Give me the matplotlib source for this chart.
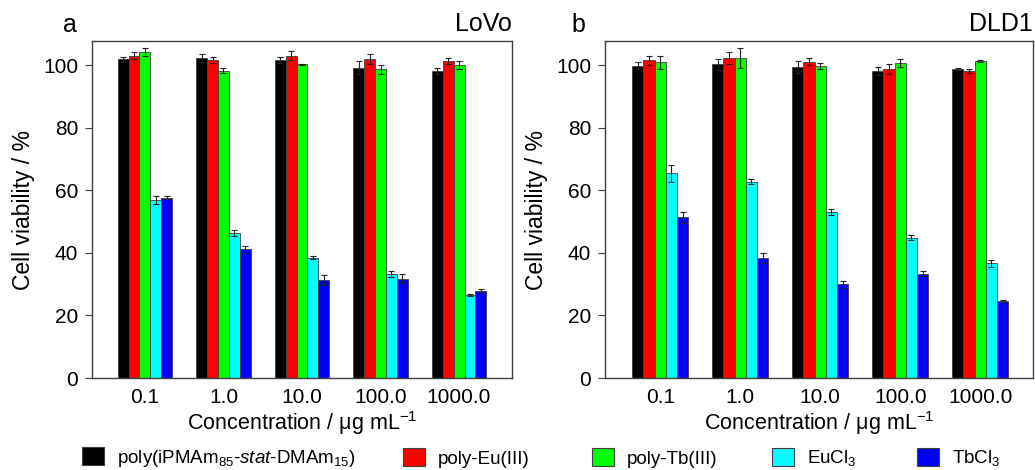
import numpy as np
import matplotlib.pyplot as plt
from matplotlib.patches import Patch

plt.rcParams['font.family'] = ['Liberation Sans', 'DejaVu Sans']
plt.rcParams['mathtext.fontset'] = 'custom'
plt.rcParams['mathtext.rm'] = 'Liberation Sans'
plt.rcParams['mathtext.it'] = 'Liberation Sans:italic'

concentrations = ["0.1", "1.0", "10.0", "100.0", "1000.0"]
series_names = [r"poly(iPMAm$_{85}$-$\it{stat}$-DMAm$_{15}$)", "poly-Eu(III)",
                "poly-Tb(III)", r"EuCl$_3$", r"TbCl$_3$"]
colors = ["#000000", "#ff0000", "#00ff00", "#00ffff", "#0000ff"]

# LoVo (panel a)
lovo_mean = [
    [101.8, 102.4, 101.7, 99.2, 98.2],
    [103.0, 101.6, 103.0, 101.8, 101.4],
    [104.2, 98.2, 100.2, 98.6, 100.0],
    [56.8, 46.3, 38.5, 33.2, 26.6],
    [57.6, 41.1, 31.2, 31.7, 27.9],
]
lovo_err = [
    [0.9, 1.3, 0.9, 2.0, 1.0],
    [1.1, 1.0, 1.4, 1.6, 1.0],
    [1.4, 0.8, 0.3, 1.5, 1.3],
    [1.3, 1.0, 0.5, 1.0, 0.4],
    [0.5, 1.0, 1.6, 1.4, 0.5],
]

# DLD1 (panel b)
dld1_mean = [
    [99.8, 100.3, 99.4, 98.1, 98.7],
    [101.5, 102.3, 101.1, 98.7, 98.1],
    [100.9, 102.3, 99.6, 100.7, 101.3],
    [65.4, 62.7, 53.1, 44.9, 36.6],
    [51.3, 38.3, 29.9, 33.3, 24.6],
]
dld1_err = [
    [1.2, 1.8, 2.0, 1.3, 0.4],
    [1.4, 1.8, 1.2, 1.5, 0.5],
    [2.0, 3.2, 1.0, 1.3, 0.4],
    [2.8, 0.8, 1.0, 0.8, 1.2],
    [1.8, 1.5, 1.0, 0.8, 0.3],
]

fig = plt.figure(figsize=(10.35, 4.70), dpi=100)
ax_a = fig.add_axes([92 / 1035, 92 / 470, 420 / 1035, 337 / 470])
ax_b = fig.add_axes([605 / 1035, 92 / 470, 428 / 1035, 337 / 470])

edge = "#404040"
width = 0.14


def draw_panel(ax, means, errs, xlim):
    x = np.arange(len(concentrations))
    for i in range(len(means)):
        ax.bar(x + (i - 2) * width, means[i], width, yerr=errs[i], color=colors[i],
               edgecolor=edge, linewidth=0.6,
               error_kw=dict(ecolor="#202020", elinewidth=0.8, capsize=2.5, capthick=0.8))
    ax.set_xlim(*xlim)
    ax.set_ylim(0, 107.7)
    ax.set_xticks(x)
    ax.set_xticklabels(concentrations)
    ax.set_yticks([0, 20, 40, 60, 80, 100])
    ax.tick_params(axis="x", length=0, labelsize=15, pad=7)
    ax.tick_params(axis="y", direction="out", length=5, width=0.8, color=edge,
                   labelsize=15, pad=5)
    for s in ax.spines.values():
        s.set_color(edge)
        s.set_linewidth(1.0)
    ax.set_xlabel(r"Concentration / μg mL$^{-1}$", fontsize=15.5, labelpad=2)
    ax.set_ylabel("Cell viability / %", fontsize=16.5, labelpad=6)


draw_panel(ax_a, lovo_mean, lovo_err, (-0.675, 4.675))
draw_panel(ax_b, dld1_mean, dld1_err, (-0.69, 4.66))

fig.text(70 / 1035, 1 - 25 / 470, "a", fontsize=18, ha="center", va="center")
fig.text(512 / 1035, 1 - 24 / 470, "LoVo", fontsize=18, ha="right", va="center")
fig.text(578 / 1035, 1 - 25 / 470, "b", fontsize=18, ha="center", va="center")
fig.text(1033 / 1035, 1 - 24 / 470, "DLD1", fontsize=18, ha="right", va="center")

# legend entries are spaced unevenly in the original, so place each one
legend_x = [82, 403, 592, 772, 917]
for c, name, lx in zip(colors, series_names, legend_x):
    h = Patch(facecolor=c, edgecolor=edge, linewidth=0.8)
    fig.legend([h], [name], loc="center left", bbox_to_anchor=(lx / 1035, 12 / 470),
               frameon=False, fontsize=13.5, handlelength=1.17, handleheight=1.07,
               handletextpad=0.7, borderpad=0, borderaxespad=0)

fig.savefig("out.png", dpi=100)
